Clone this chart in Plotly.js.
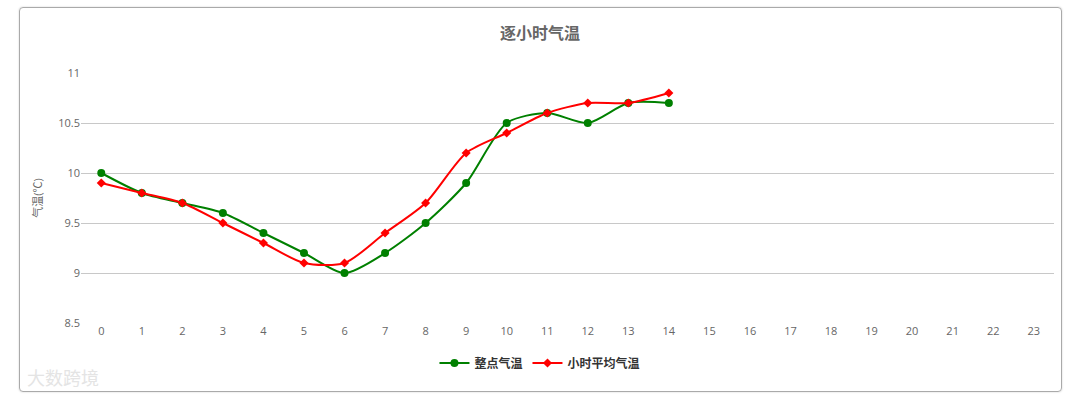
<!DOCTYPE html>
<html>
<head>
<meta charset="utf-8">
<script src="https://cdn.plot.ly/plotly-3.0.1.min.js"></script>
<style>
html,body{margin:0;padding:0;background:#fff;}
#wrap{position:relative;width:1080px;height:398px;}
#chart{position:absolute;left:0;top:0;width:1080px;height:398px;}
#frame{position:absolute;left:19px;top:7px;width:1041px;height:383px;border:1px solid #aaa;border-radius:4px;pointer-events:none;box-shadow:0 0 2px #ccc;}
</style>
</head>
<body>
<div id="wrap"><div id="chart"></div><div id="frame"></div></div>
<script>
var hours = ["0","1","2","3","4","5","6","7","8","9","10","11","12","13","14","15","16","17","18","19","20","21","22","23"];
var hourlyTemp = [10.0, 9.8, 9.7, 9.6, 9.4, 9.2, 9.0, 9.2, 9.5, 9.9, 10.5, 10.6, 10.5, 10.7, 10.7];
var avgTemp = [9.9, 9.8, 9.7, 9.5, 9.3, 9.1, 9.1, 9.4, 9.7, 10.2, 10.4, 10.6, 10.7, 10.7, 10.8];
var yTicks = [8.5, 9, 9.5, 10, 10.5, 11];
var yTickText = ["8.5", "9", "9.5", "10", "10.5", "11"];

var font = '"Open Sans", "Noto Sans CJK SC", sans-serif';

var traces = [
  {
    x: hours.slice(0, hourlyTemp.length), y: hourlyTemp, name: "<b>整点气温</b>",
    type: "scatter", mode: "lines+markers",
    line: {color: "#008000", width: 2, shape: "spline", smoothing: 0.75},
    marker: {color: "#008000", size: 8, symbol: "circle"}
  },
  {
    x: hours.slice(0, avgTemp.length), y: avgTemp, name: "<b>小时平均气温</b>",
    type: "scatter", mode: "lines+markers",
    line: {color: "#ff0000", width: 2, shape: "spline", smoothing: 0.75},
    marker: {color: "#ff0000", size: 7, symbol: "diamond"}
  }
];

var layout = {
  width: 1080, height: 398,
  margin: {l: 81, r: 26, t: 73, b: 75},
  paper_bgcolor: "rgba(0,0,0,0)",
  plot_bgcolor: "rgba(0,0,0,0)",
  font: {family: font, color: "#666", size: 11},
  showlegend: true,
  title: {text: "<b>逐小时气温</b>", x: 0.5, xref: "container", xanchor: "center",
          y: 0.917, yanchor: "middle",
          font: {family: font, size: 16, color: "#666"}},
  xaxis: {
    type: "category", categoryorder: "array", categoryarray: hours,
    range: [-0.5, 23.5], showgrid: false, zeroline: false,
    showline: false, ticks: "", tickfont: {size: 11, color: "#666"},
    fixedrange: true
  },
  yaxis: {
    range: [8.5, 11], tickvals: yTicks, ticktext: yTickText,
    showgrid: true, gridcolor: "#c8c8c8", gridwidth: 1, zeroline: false,
    showline: false, ticks: "", ticklen: 0, tickfont: {size: 11, color: "#666"},
    title: {text: "气温(℃)", font: {size: 11, color: "#666"}, standoff: 13},
    fixedrange: true
  },
  legend: {
    orientation: "h", x: 0.4717, xanchor: "center", y: -0.16, yanchor: "middle",
    font: {size: 12, color: "#333", family: font}, itemwidth: 30
  },
  annotations: [
    {text: "大数跨境", xref: "paper", yref: "paper", x: -0.058, y: -0.22,
     xanchor: "left", yanchor: "middle", showarrow: false,
     font: {size: 18, color: "#e4e4e4", family: font}}
  ]
};

Plotly.newPlot("chart", traces, layout, {displayModeBar: false, staticPlot: true});
</script>
</body>
</html>
